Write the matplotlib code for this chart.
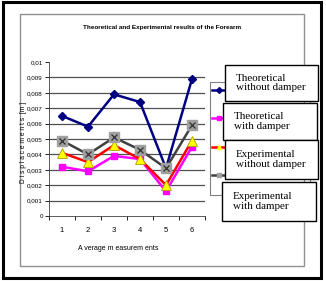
import matplotlib.pyplot as plt
from matplotlib.patches import Rectangle
from matplotlib.lines import Line2D

W, H = 326, 281

# data
measurements = [1, 2, 3, 4, 5, 6]
theo_without = [0.0065, 0.0058, 0.0079, 0.0074, 0.0031, 0.0089]
theo_with = [0.0032, 0.0029, 0.0039, 0.0037, 0.0016, 0.0045]
exp_without = [0.0041, 0.0035, 0.0046, 0.0037, 0.0020, 0.0049]
exp_with = [0.0049, 0.0040, 0.0051, 0.0043, 0.0031, 0.0059]

ytick_vals = [0, 0.001, 0.002, 0.003, 0.004, 0.005, 0.006, 0.007, 0.008, 0.009, 0.01]
ytick_labels = ['0', '0,001', '0,002', '0,003', '0,004', '0,005', '0,006',
                '0,007', '0,008', '0,009', '0,01']
legend_texts = ['Theoretical\nwithout damper', 'Theoretical\nwith damper',
                'Experimental\nwithout damper', 'Experimental\nwith damper']

small = 'Liberation Sans Narrow'
plt.rcParams['font.family'] = [small, 'Liberation Sans', 'DejaVu Sans']


def px(x, y):
    # pixel (from top-left) to figure fraction
    return x / W, 1 - y / H


fig = plt.figure(figsize=(W / 100, H / 100), dpi=100)

# outer black frame and inner gray chart-area frame
fig.patches.append(Rectangle(px(3, 278), 318 / W, 276 / H, transform=fig.transFigure,
                             fill=False, edgecolor='black', linewidth=2.2))
fig.patches.append(Rectangle(px(20, 266), 284 / W, 252 / H, transform=fig.transFigure,
                             fill=False, edgecolor='#909090', linewidth=1.0))

x0, y0 = px(49, 216)
ax = fig.add_axes([x0, y0, 156 / W, 154 / H])

ax.plot(measurements, theo_without, color='#000080', lw=1.8, marker='D', ms=4.5,
        mfc='#000080', mec='#000080', zorder=3)
ax.plot(measurements, theo_with, color='#ff00ff', lw=1.8, marker='s', ms=5,
        mfc='#ff00ff', mec='#ff00ff', zorder=3)
ax.plot(measurements, exp_without, color='#ff0000', lw=1.8, marker='^', ms=6.5,
        mfc='#ffff00', mec='#b0a000', mew=0.6, zorder=4)
ax.plot(measurements, exp_with, color='#404040', lw=1.8, marker='s', ms=6.5,
        mfc='#a0a0a0', mec='#a0a0a0', zorder=5)
ax.plot(measurements, exp_with, ls='none', marker='x', ms=5, mec='#303030', mew=0.9, zorder=6)

ax.set_xlim(0.5, 6.5)
ax.set_ylim(0, 0.01)
ax.set_yticks(ytick_vals)
ax.set_yticklabels(ytick_labels)
ax.set_xticks(measurements)
ax.set_xticks([i + 0.5 for i in range(0, 7)], minor=True)
ax.tick_params(axis='x', which='major', length=0, labelsize=5.5, pad=8)
ax.tick_params(axis='x', which='minor', length=3, direction='out', width=0.6)
ax.tick_params(axis='y', labelsize=4.5, length=3, width=0.6, pad=1.5)
for v in ytick_vals[1:-1]:
    ax.axhline(v, color='#505050', lw=0.9, zorder=1)
for s in ['top', 'right']:
    ax.spines[s].set_visible(False)
ax.spines['left'].set_linewidth(0.6)
ax.spines['bottom'].set_linewidth(0.6)
ax.spines['left'].set_color('#404040')
ax.spines['bottom'].set_color('#404040')
ax.set_facecolor('none')

fig.text(*px(162, 28), 'Theoretical and Experimental results of the Forearm',
         ha='center', va='center', fontsize=4.6, fontweight='bold')
fig.text(*px(118, 248), 'A verage m easurem ents', ha='center', va='center', fontsize=5)
fig.text(*px(24, 142), 'D i s p l a c e m e n t s  [m ]', ha='center', va='center',
         rotation=90, fontsize=4.8)

# excel legend frame with line samples
fig.patches.append(Rectangle(px(210, 195), 100 / W, 113 / H, transform=fig.transFigure,
                             fill=False, edgecolor='#808080', linewidth=0.8))
samples = [(90, '#000080', 'D', '#000080'), (118, '#ff00ff', 's', '#ff00ff'),
           (147, '#ff0000', '^', '#ffff00'), (175, '#404040', 's', '#a0a0a0')]
for yy, c, m, fc in samples:
    xa, ya = px(212, yy)
    xb, _ = px(226, yy)
    fig.lines.append(Line2D([xa, xb], [ya, ya], transform=fig.transFigure, color=c, lw=1.8))
    fig.lines.append(Line2D([(xa + xb) / 2], [ya], transform=fig.transFigure, marker=m,
                            ms=3, color=fc, mec=fc))

# white text boxes on top of the legend
boxes = [(225, 65, 93, 36), (223, 103, 94, 37), (225, 140, 93, 39), (222, 182, 94, 39)]
for (bx, by, bw, bh), txt in zip(boxes, legend_texts):
    fig.patches.append(Rectangle(px(bx, by + bh), bw / W, bh / H, transform=fig.transFigure,
                                 facecolor='white', edgecolor='black', linewidth=1.0,
                                 zorder=10))
    fig.text(*px(bx + 11, by + bh / 2), txt, ha='left', va='center', fontsize=7.9,
             family='Liberation Serif', linespacing=1.05, zorder=11)

fig.savefig('out.png', dpi=100)
